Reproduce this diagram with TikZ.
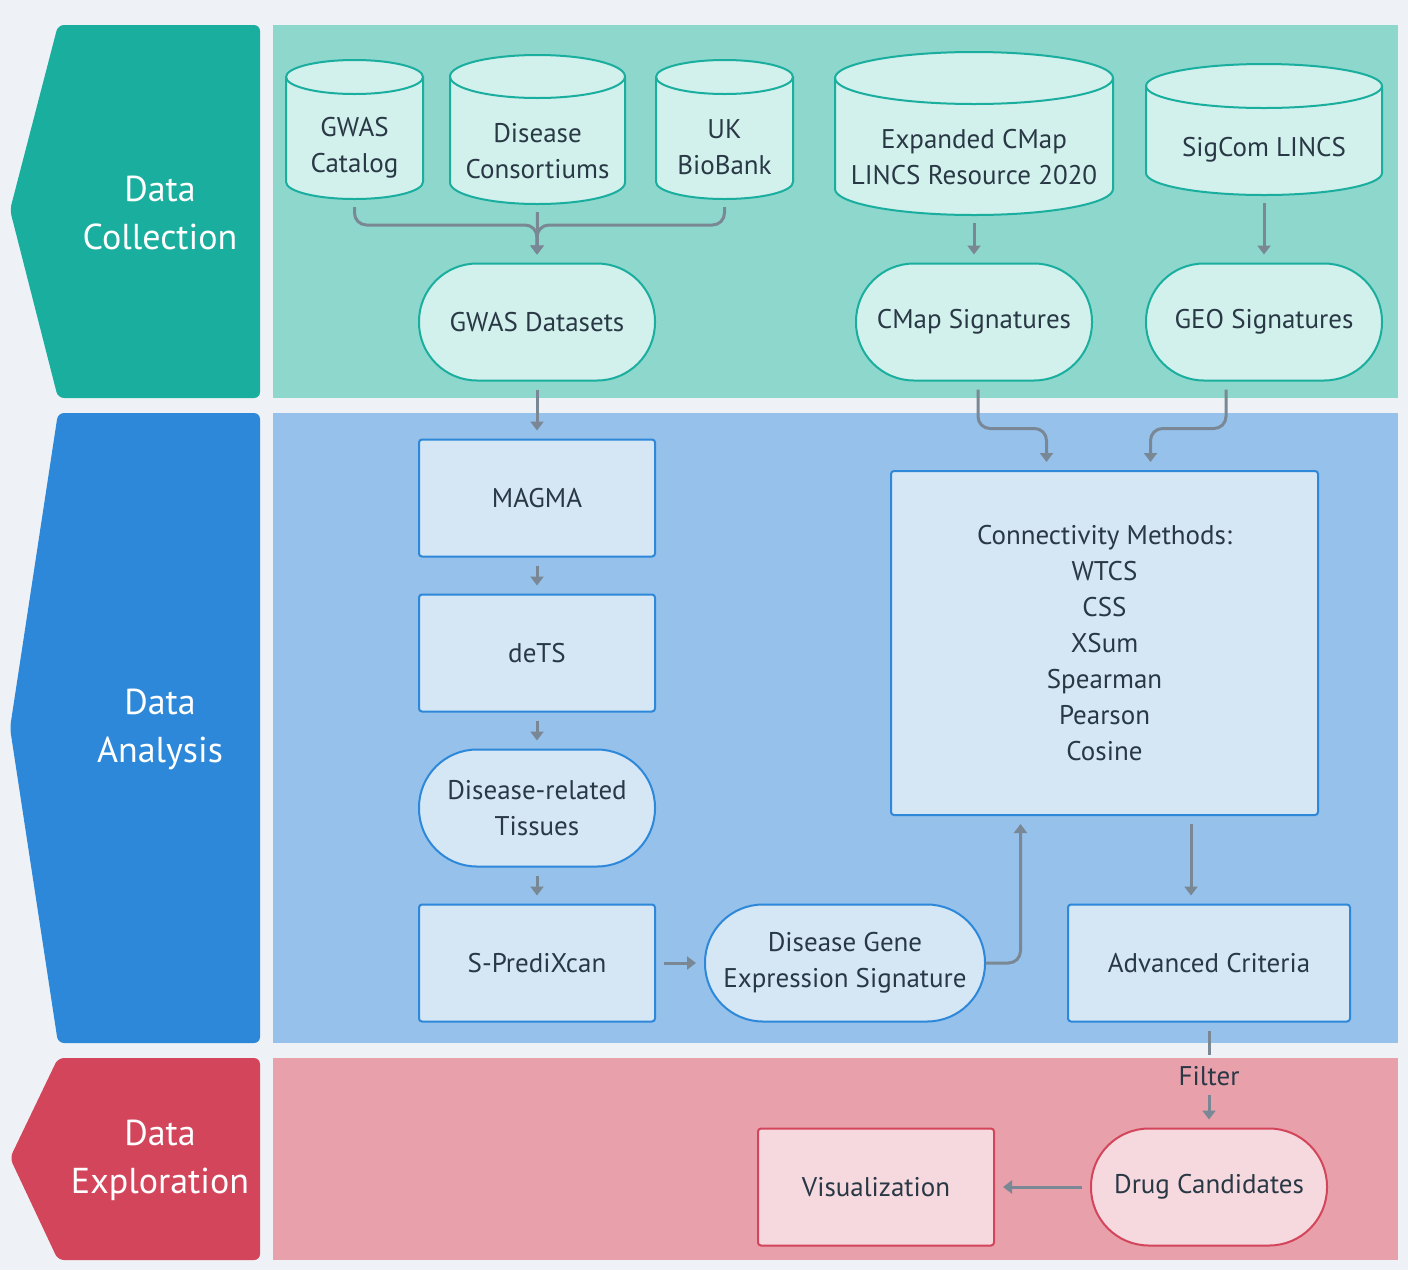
\documentclass[tikz,border=0pt]{standalone}
\usepackage{fontspec}
\setmainfont{PT Sans}
\usetikzlibrary{arrows.meta}

\definecolor{pagebg}{HTML}{EEF2F6}
\definecolor{ink}{HTML}{293845}
\definecolor{wire}{HTML}{7A8896}
\definecolor{tealdark}{HTML}{1AAE9F}
\definecolor{teallane}{HTML}{8DD7CC}
\definecolor{tealfill}{HTML}{D2F0EC}
\definecolor{bluedark}{HTML}{2D88D9}
\definecolor{bluelane}{HTML}{96C1EA}
\definecolor{bluefill}{HTML}{D5E6F5}
\definecolor{reddark}{HTML}{D3455B}
\definecolor{redlane}{HTML}{E8A0AA}
\definecolor{redfill}{HTML}{F6D9DE}

\begin{document}
\begin{tikzpicture}[x=0.5pt, y=-0.5pt,
    every node/.style={text=ink, font=\fontsize{13.5}{18}\selectfont, align=center},
    storeline/.style={draw=tealdark, fill=tealfill, line width=1pt},
    pill/.style={rectangle, rounded corners=29pt, minimum width=118pt, minimum height=58.5pt, line width=1pt},
    task/.style={rectangle, rounded corners=1.5pt, minimum width=118pt, minimum height=58.5pt, line width=1pt, draw=bluedark, fill=bluefill},
    lanetext/.style={text=white, font=\fontsize{18}{24}\selectfont},
    flow/.style={draw=wire, line width=1.5pt, rounded corners=6pt, shorten >=4pt, shorten <=4pt, -{Triangle[length=4.5pt, width=6.5pt]}}]

    % Background and lanes
    \fill[pagebg] (0,0) rectangle (1408,1270);
    \fill[teallane] (273,25) rectangle (1398,398);
    \fill[bluelane] (273,413) rectangle (1398,1043);
    \fill[redlane] (273,1058) rectangle (1398,1260);
    \fill[tealdark, rounded corners=3pt] (260,25) -- (58,25) -- (10,210) -- (58,398) -- (260,398) -- cycle;
    \fill[bluedark, rounded corners=3pt] (260,413) -- (58,413) -- (10,728) -- (58,1043) -- (260,1043) -- cycle;
    \fill[reddark, rounded corners=3pt] (260,1058) -- (58,1058) -- (10,1158) -- (58,1260) -- (260,1260) -- cycle;
    \node[lanetext] (collect) at (160,213) {Data\\Collection};
    \node[lanetext] (analyse) at (160,729) {Data\\Analysis};
    \node[lanetext] (explore) at (160,1160) {Data\\Exploration};

    % Sources (name / centre x / top / bottom / half width / ellipse radius / text y / text)
    \foreach \name/\cx/\top/\bot/\hw/\ry/\ty/\txt in {
        gwascat/354.5/60/199/68.5/17/147.5/{GWAS\\Catalog},
        consort/537.5/55/204/87.5/21.5/151.5/{Disease\\Consortiums},
        ukbb/724.5/60/199/68.5/17/147.5/{UK\\BioBank},
        cmapdb/974/52/215/139/26/157.5/{Expanded CMap\\LINCS Resource 2020},
        sigcom/1264/64/195/118/22/150/{SigCom LINCS}} {
      \draw[storeline] (\cx-\hw,\top+\ry) -- (\cx-\hw,\bot-\ry)
          arc[start angle=180, end angle=360, x radius=0.5pt*\hw, y radius=0.5pt*\ry]
          -- (\cx+\hw,\top+\ry)
          arc[start angle=0, end angle=180, x radius=0.5pt*\hw, y radius=0.5pt*\ry] -- cycle;
      \draw[storeline, fill=none] (\cx-\hw,\top+\ry)
          arc[start angle=180, end angle=360, x radius=0.5pt*\hw, y radius=0.5pt*\ry];
      \node (\name) at (\cx,\ty) {\txt};
      \coordinate (\name-base) at (\cx,\bot);
    }

    % Datasets
    \node[pill, draw=tealdark, fill=tealfill] (gwasdata) at (537,322)  {GWAS Datasets};
    \node[pill, draw=tealdark, fill=tealfill] (cmapsig)  at (974,322)  {CMap Signatures};
    \node[pill, draw=tealdark, fill=tealfill] (geosig)   at (1264,322) {GEO Signatures};

    % Analysis
    \node[task] (magma) at (537,498) {MAGMA};
    \node[task] (dets)  at (537,653) {deTS};
    \node[pill, draw=bluedark, fill=bluefill] (tissues) at (537,808) {Disease-related\\Tissues};
    \node[task] (spred) at (537,963) {S-PrediXcan};
    \node[pill, draw=bluedark, fill=bluefill, minimum width=140pt] (dges) at (845,963) {Disease Gene\\Expression Signature};
    \node[task, minimum width=213.5pt, minimum height=172pt] (conn) at (1104.5,643)
        {Connectivity Methods:\\WTCS\\CSS\\XSum\\Spearman\\Pearson\\Cosine};
    \node[task, minimum width=141pt] (adv) at (1209,963) {Advanced Criteria};

    % Exploration
    \node[pill, draw=reddark, fill=redfill] (drug) at (1209,1187) {Drug Candidates};
    \node[task, draw=reddark, fill=redfill] (vis) at (876,1187) {Visualization};
    \node (filt) at (1209,1076) {Filter};

    % Paths
    \draw[flow] (gwascat-base) -- ++(0,26) -| (gwasdata.north);
    \draw[flow] (ukbb-base) -- ++(0,26) -| (gwasdata.north);
    \draw[flow] (consort-base) -- (gwasdata.north);
    \draw[flow] (cmapdb-base) -- (cmapsig.north);
    \draw[flow] (sigcom-base) -- (geosig.north);
    \draw[flow] (gwasdata) -- (magma);
    \draw[flow] ([xshift=2pt]cmapsig.south) -- ++(0,47) -| ([xshift=-29pt]conn.north);
    \draw[flow] ([xshift=-19pt]geosig.south) -- ++(0,47) -| ([xshift=23pt]conn.north);
    \draw[flow] (magma) -- (dets);
    \draw[flow] (dets) -- (tissues);
    \draw[flow] (tissues) -- (spred);
    \draw[flow] (spred) -- (dges);
    \draw[flow, shorten <=0pt] (dges.east) -| ([xshift=-42pt]conn.south);
    \draw[flow] ([xshift=-9pt]adv.north |- conn.south) -- ([xshift=-9pt]adv.north);
    \draw[flow, -, shorten >=2pt] (adv) -- (filt);
    \draw[flow, shorten <=1pt] (filt) -- (drug);
    \draw[flow] (drug) -- (vis);

\end{tikzpicture}
\end{document}
